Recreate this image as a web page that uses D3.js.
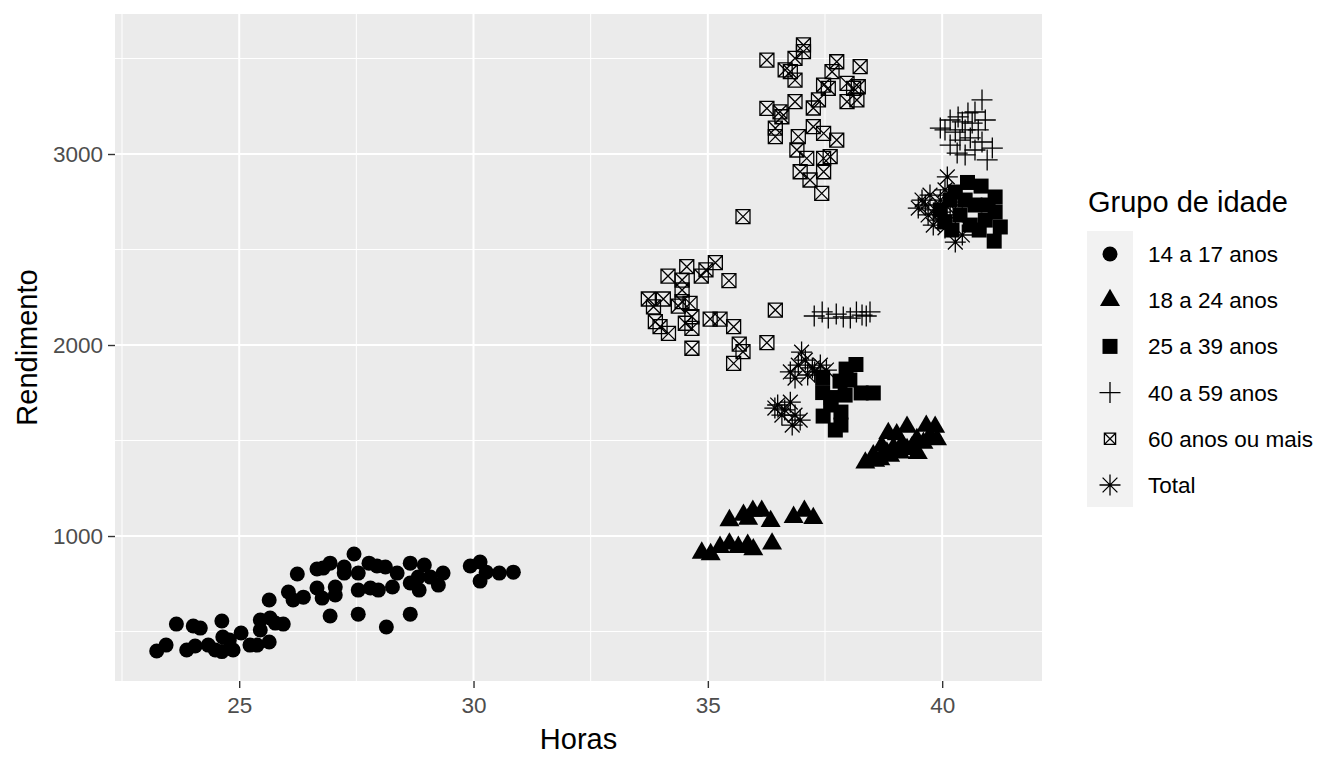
<!DOCTYPE html>
<html lang="pt">
<head>
<meta charset="utf-8">
<title>Horas x Rendimento</title>
<script src="https://d3js.org/d3.v7.min.js"></script>
<style>
  body { margin: 0; background: #fff; }
  svg { display: block; font-family: "Liberation Sans", Arial, Helvetica, sans-serif; }
</style>
</head>
<body>
<div id="chart"></div>
<script>
// groups / legend labels
var grupos = ["14 a 17 anos", "18 a 24 anos", "25 a 39 anos", "40 a 59 anos", "60 anos ou mais", "Total"];

// hours (x) and income (y) for each group
var horas14 = [23.24,23.44,23.66,24.02,24.17,23.88,24.06,24.34,24.49,24.63,24.65,24.63,24.79,24.87,25.04,25.23,25.38,25.64,25.45,25.45,25.66,25.77,25.94,25.64,26.05,26.15,26.37,26.24,26.66,26.79,26.94,26.66,26.77,27.05,26.94,27.45,27.24,27.24,27.05,27.54,27.54,27.77,27.94,28.12,28.37,27.54,27.80,27.97,28.27,28.14,28.65,28.95,28.65,28.84,28.82,29.08,29.35,29.25,28.65,29.93,30.14,30.14,30.27,30.55,30.85];
var rend14 = [398,429,539,529,518,403,424,429,403,555,471,395,455,403,492,429,429,445,560,508,571,544,539,665,707,665,680,801,827,832,858,728,675,733,581,906,838,806,691,591,717,858,843,838,806,806,728,717,733,524,858,848,754,717,785,785,806,743,591,843,864,764,811,806,811];

var horas18 = [35.46,35.76,35.86,35.96,36.15,36.34,36.83,37.06,37.25,34.87,35.06,35.26,35.46,35.65,35.85,35.97,36.37,38.36,38.53,38.71,38.85,39.03,39.25,39.66,39.85,38.68,38.89,39.10,39.25,39.35,39.46,39.60,39.74,39.89,39.14,38.96,38.82,39.48,38.57];
var rend18 = [1082,1110,1089,1131,1131,1078,1099,1131,1093,912,904,942,960,942,953,930,960,1384,1422,1471,1538,1532,1571,1576,1571,1401,1419,1436,1454,1462,1506,1487,1523,1506,1480,1462,1436,1434,1393];

var horas25 = [40.54,40.83,41.13,41.13,41.24,41.11,40.79,40.17,40.38,40.06,40.49,40.70,40.28,40.92,40.60,40.98,39.96,40.21,38.16,37.95,38.27,38.53,37.45,37.45,37.82,37.63,37.46,37.72,37.84,37.84,37.62,38.03,37.93];
var rend25 = [2851,2832,2775,2696,2618,2544,2602,2759,2681,2644,2759,2733,2801,2654,2628,2733,2707,2602,1898,1874,1749,1749,1830,1751,1811,1725,1628,1555,1649,1581,1686,1817,1738];

var horas40 = [40.85,40.55,40.34,40.70,40.17,40.43,40.64,40.92,40.06,40.28,40.49,40.77,40.38,40.60,40.17,40.85,41.07,40.49,40.70,40.96,40.32,39.96,37.27,37.44,37.57,37.74,37.89,38.04,38.17,38.29,38.38,38.46];
var rend40 = [3283,3215,3194,3220,3178,3168,3162,3178,3126,3115,3126,3126,3073,3084,3047,3063,3031,2995,3021,2969,3005,3136,2152,2173,2141,2162,2147,2141,2173,2157,2152,2173];

var horas60 = [37.04,37.04,36.26,36.86,37.75,38.25,36.65,36.76,36.86,37.65,37.47,37.36,37.57,37.97,38.11,38.21,37.97,38.18,36.26,36.54,36.86,36.58,36.44,36.44,36.93,37.25,37.47,37.75,36.90,37.11,37.47,37.61,36.97,37.18,37.47,37.43,37.25,
               35.75,34.55,34.96,35.16,34.15,34.45,34.86,35.45,34.45,33.73,34.05,34.45,33.84,34.37,34.62,33.88,33.98,34.16,34.66,34.52,34.66,35.05,35.26,35.55,34.66,35.67,35.75,35.55,36.44,36.26];
var rend60 = [3571,3536,3492,3501,3483,3457,3440,3431,3387,3431,3361,3283,3344,3370,3344,3352,3274,3283,3239,3221,3274,3195,3135,3091,3091,3143,3108,3073,3021,2977,2977,2986,2907,2864,2907,2794,3241,
              2672,2410,2393,2431,2361,2340,2361,2337,2288,2241,2241,2227,2200,2204,2218,2122,2096,2061,2148,2114,2087,2136,2136,2096,1983,2005,1965,1904,2183,2012];

var horasTot = [40.11,39.64,39.74,39.85,39.96,39.70,39.91,40.06,40.17,39.49,39.81,40.06,40.28,39.57,39.96,40.28,40.43,40.17,36.76,36.93,37.08,37.23,37.40,37.53,36.86,37.13,37.28,37.00,36.49,36.64,36.76,36.86,36.58,36.97,36.43,36.80];
var rendTot = [2880,2733,2785,2707,2759,2681,2654,2812,2733,2717,2628,2613,2681,2759,2696,2539,2576,2785,1859,1895,1921,1880,1895,1869,1827,1843,1859,1963,1686,1660,1701,1633,1633,1607,1670,1581];

var xTicks = [25, 30, 35, 40];
var yTicks = [1000, 2000, 3000];

var series = [
  {grupo: grupos[0], h: horas14, r: rend14},
  {grupo: grupos[1], h: horas18, r: rend18},
  {grupo: grupos[2], h: horas25, r: rend25},
  {grupo: grupos[3], h: horas40, r: rend40},
  {grupo: grupos[4], h: horas60, r: rend60},
  {grupo: grupos[5], h: horasTot, r: rendTot}
];
var pontos = [];
series.forEach(function(s, i) {
  s.h.forEach(function(v, j) { pontos.push({g: i, horas: v, rend: s.r[j]}); });
});

var W = 1344, H = 768;
var panel = {left: 115, right: 1042, top: 14, bottom: 681};

var x = d3.scaleLinear().domain([22.35, 42.13]).range([panel.left, panel.right]);
var y = d3.scaleLinear().domain([241, 3733]).range([panel.bottom, panel.top]);

var svg = d3.select("#chart").append("svg")
  .attr("width", W).attr("height", H);

// panel background
svg.append("rect")
  .attr("x", panel.left).attr("y", panel.top)
  .attr("width", panel.right - panel.left).attr("height", panel.bottom - panel.top)
  .attr("fill", "#EBEBEB");

// minor grid
var xMinor = [22.5, 27.5, 32.5, 37.5];
var yMinor = [500, 1500, 2500, 3500];
var grid = svg.append("g");
grid.selectAll(".vmin").data(xMinor).enter().append("line")
  .attr("x1", function(d) { return x(d); }).attr("x2", function(d) { return x(d); })
  .attr("y1", panel.top).attr("y2", panel.bottom)
  .attr("stroke", "#fff").attr("stroke-width", 1);
grid.selectAll(".hmin").data(yMinor).enter().append("line")
  .attr("y1", function(d) { return y(d); }).attr("y2", function(d) { return y(d); })
  .attr("x1", panel.left).attr("x2", panel.right)
  .attr("stroke", "#fff").attr("stroke-width", 1);
// major grid
grid.selectAll(".vmaj").data(xTicks).enter().append("line")
  .attr("x1", function(d) { return x(d); }).attr("x2", function(d) { return x(d); })
  .attr("y1", panel.top).attr("y2", panel.bottom)
  .attr("stroke", "#fff").attr("stroke-width", 2);
grid.selectAll(".hmaj").data(yTicks).enter().append("line")
  .attr("y1", function(d) { return y(d); }).attr("y2", function(d) { return y(d); })
  .attr("x1", panel.left).attr("x2", panel.right)
  .attr("stroke", "#fff").attr("stroke-width", 2);

// axes
var xAxis = svg.append("g")
  .attr("transform", "translate(0," + panel.bottom + ")")
  .call(d3.axisBottom(x).tickValues(xTicks).tickFormat(d3.format("d")).tickSize(7).tickPadding(4));
var yAxis = svg.append("g")
  .attr("transform", "translate(" + panel.left + ",0)")
  .call(d3.axisLeft(y).tickValues(yTicks).tickFormat(d3.format("d")).tickSize(7).tickPadding(5));
[xAxis, yAxis].forEach(function(a) {
  a.select(".domain").remove();
  a.selectAll("line").attr("stroke", "#333333").attr("stroke-width", 1.4);
  a.selectAll("text").attr("fill", "#4D4D4D").style("font-size", "22.5px")
    .style("font-family", "'Liberation Sans', Arial, sans-serif");
});
xAxis.selectAll("text").attr("dy", "0.95em");

// axis titles
svg.append("text")
  .attr("x", (panel.left + panel.right) / 2).attr("y", 749)
  .attr("text-anchor", "middle").style("font-size", "29px").attr("fill", "#000")
  .text("Horas");
svg.append("text")
  .attr("transform", "translate(37," + ((panel.top + panel.bottom) / 2) + ") rotate(-90)")
  .attr("text-anchor", "middle").style("font-size", "29px").attr("fill", "#000")
  .text("Rendimento");

// point shapes (ggplot shapes 16, 17, 15, 3, 7, 8)
function desenha(sel, g, big) {
  var lw = 1.3;
  if (g === 0) {
    sel.append("circle").attr("r", 7.5).attr("fill", "#000");
  } else if (g === 1) {
    sel.append("path").attr("d", "M0,-11.5L10,5.8L-10,5.8Z").attr("fill", "#000");
  } else if (g === 2) {
    sel.append("rect").attr("x", -7.5).attr("y", -7.5).attr("width", 15).attr("height", 15).attr("fill", "#000");
  } else if (g === 3) {
    sel.append("path").attr("d", "M-10.5,0H10.5M0,-10.5V10.5")
      .attr("stroke", "#000").attr("stroke-width", lw).attr("fill", "none");
  } else if (g === 4) {
    var s = big ? 7 : 5.6;
    sel.append("path")
      .attr("d", "M" + (-s) + "," + (-s) + "H" + s + "V" + s + "H" + (-s) + "Z" +
                 "M" + (-s) + "," + (-s) + "L" + s + "," + s + "M" + s + "," + (-s) + "L" + (-s) + "," + s)
      .attr("stroke", "#000").attr("stroke-width", lw).attr("fill", "none");
  } else {
    var d = 7.4;
    sel.append("path")
      .attr("d", "M-10.5,0H10.5M0,-10.5V10.5M" + (-d) + "," + (-d) + "L" + d + "," + d + "M" + d + "," + (-d) + "L" + (-d) + "," + d)
      .attr("stroke", "#000").attr("stroke-width", lw).attr("fill", "none");
  }
}

var pts = svg.append("g").selectAll("g").data(pontos).enter().append("g")
  .attr("transform", function(d) { return "translate(" + x(d.horas) + "," + y(d.rend) + ")"; });
pts.each(function(d) { desenha(d3.select(this), d.g, true); });

// legend
var leg = svg.append("g");
leg.append("text")
  .attr("x", 1088).attr("y", 212)
  .style("font-size", "29px").attr("fill", "#000")
  .text("Grupo de idade");
leg.append("rect")
  .attr("x", 1087).attr("y", 231).attr("width", 46).attr("height", 276)
  .attr("fill", "#F2F2F2");
var items = leg.selectAll(".item").data(grupos).enter().append("g")
  .attr("transform", function(d, i) { return "translate(1110," + (254 + i * 46.2) + ")"; });
items.each(function(d, i) { desenha(d3.select(this), i, false); });
items.append("text")
  .attr("x", 38).attr("y", 8)
  .style("font-size", "22.5px").attr("fill", "#000")
  .text(function(d) { return d; });
</script>
</body>
</html>
